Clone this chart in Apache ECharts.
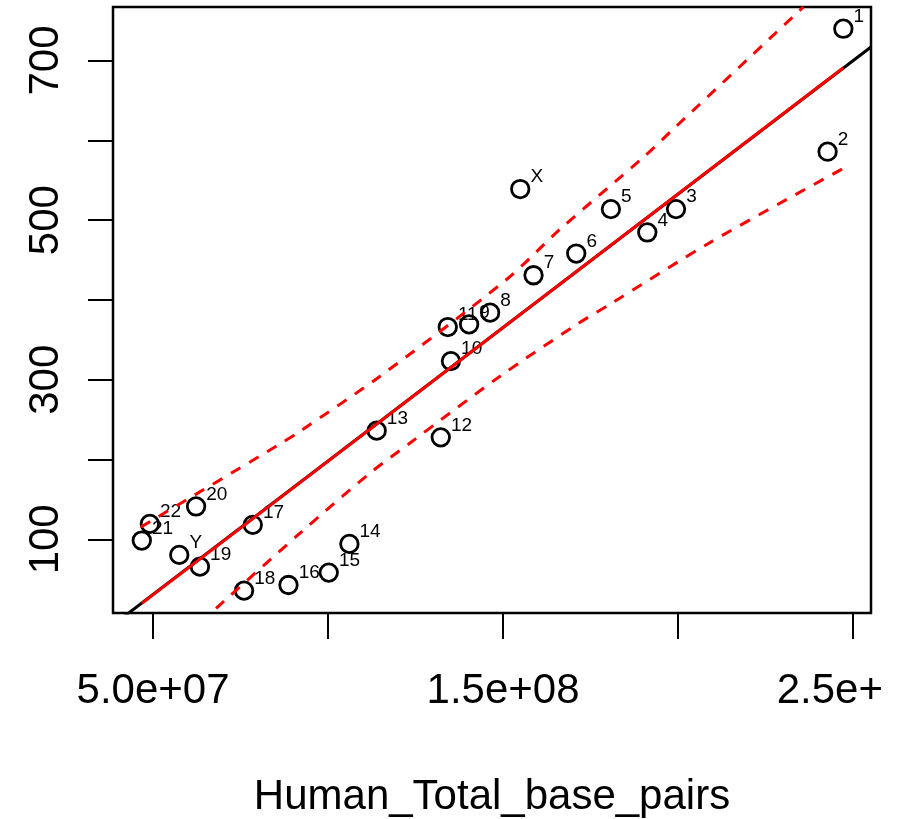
<!DOCTYPE html>
<html>
<head>
<meta charset="utf-8">
<script src="https://cdn.jsdelivr.net/npm/echarts@6/dist/echarts.min.js"></script>
<style>
  html, body { margin: 0; padding: 0; background: #fff; }
  #chart { width: 905px; height: 819px; }
</style>
</head>
<body>
<div id="chart"></div>
<script>
// ---- data ----
const pointLabels = ['1','2','3','4','5','6','7','X','8','9','10','11','12','13','14','15','16','17','18','19','20','21','22','Y'];
const basePairs = [2.472e8, 2.427e8, 1.994e8, 1.912e8, 1.808e8, 1.709e8, 1.587e8, 1.549e8, 1.463e8, 1.403e8, 1.351e8, 1.342e8, 1.322e8, 1.139e8, 1.061e8, 1.002e8, 8.87e7, 7.85e7, 7.6e7, 6.34e7, 6.23e7, 4.68e7, 4.91e7, 5.75e7];
const counts = [739.8, 585.7, 513.8, 484.5, 513.8, 458.1, 430.9, 538.9, 384.0, 369.3, 323.3, 366.0, 227.8, 236.2, 94.3, 58.3, 42.8, 118.2, 35.7, 65.8, 141.2, 98.5, 119.4, 80.5];

// regression line (abline, full width) and fitted line over data range
const ablineX = [3.857e7, 2.551e8];
const ablineY = [-7.3, 716.8];
const fitX = [4.68e7, 2.472e8];
const fitY = [19.8, 690.8];

// dashed interval bands
const upperX = [4.649e7, 8.677e7, 9.2e7, 1.1486e8, 1.5106e8, 1.6629e8, 1.9009e8, 1.9866e8, 2.358e8];
const upperY = [115.3, 220.8, 235.4, 304.4, 425.9, 488.6, 578.7, 614.2, 767.1];
const lowerX = [6.8e7, 9.2e7, 1.12e8, 1.2343e8, 1.4914e8, 1.7106e8, 1.8057e8, 2.0914e8, 2.4723e8];
const lowerY = [13.6, 107.8, 183.1, 220.8, 304.4, 369.3, 394.6, 472.0, 564.9];

// axes
const xRange = [3.857e7, 2.551e8];
const yRange = [7.7, 767];
const xTickValues = [5e7, 1e8, 1.5e8, 2e8, 2.5e8];
const xLabelValues = [5e7, 1.5e8, 2.5e8];
const xLabelTexts = ['5.0e+07', '1.5e+08', '2.5e+{h|08}'];
const yTickValues = [100, 200, 300, 400, 500, 600, 700];
const yLabelValues = [100, 300, 500, 700];
const xTitle = 'Human_Total_base_pairs';

// ---- build ----
const FONT = "'Liberation Sans', Arial, Helvetica, sans-serif";
const zip = (a, b) => a.map((v, i) => [v, b[i]]);
const chart = echarts.init(document.getElementById('chart'), null, { renderer: 'canvas' });

const option = {
  backgroundColor: '#fff',
  animation: false,
  grid: {
    left: 113, right: 34, top: 7, bottom: 206,
    outerBoundsMode: 'none', containLabel: false,
    show: true, borderColor: '#000', borderWidth: 2.5, backgroundColor: 'transparent'
  },
  xAxis: {
    type: 'value', min: xRange[0], max: xRange[1],
    name: xTitle, nameLocation: 'middle', nameGap: 163,
    nameTextStyle: { fontFamily: FONT, fontSize: 42, color: '#000', lineHeight: 42 },
    axisLine: { show: false },
    splitLine: { show: false },
    axisTick: { show: true, inside: false, length: 26, customValues: xTickValues,
      lineStyle: { color: '#000', width: 2 } },
    axisLabel: {
      show: true, customValues: xLabelValues, margin: 57,
      fontFamily: FONT, fontSize: 42, lineHeight: 42, color: '#000',
      formatter: v => xLabelTexts[xLabelValues.indexOf(v)] || '',
      rich: { h: { color: 'rgba(0,0,0,0)', fontFamily: FONT, fontSize: 42, lineHeight: 42 } }
    }
  },
  yAxis: {
    type: 'value', min: yRange[0], max: yRange[1],
    axisLine: { show: false },
    splitLine: { show: false },
    axisTick: { show: true, inside: false, length: 25, customValues: yTickValues,
      lineStyle: { color: '#000', width: 2 } },
    axisLabel: {
      show: true, customValues: yLabelValues, rotate: 90, margin: 46,
      fontFamily: FONT, fontSize: 42, lineHeight: 42, color: '#000'
    }
  },
  series: [
    {
      type: 'scatter', z: 2,
      symbol: 'circle', symbolSize: 17.5,
      itemStyle: { color: 'rgba(0,0,0,0)', borderColor: '#000', borderWidth: 2.8, opacity: 1 },
      label: {
        show: true, position: 'right', distance: 0, offset: [0, -12], opacity: 1,
        formatter: '{b}', fontFamily: FONT, fontSize: 19, color: '#000'
      },
      emphasis: { disabled: true },
      data: basePairs.map((x, i) => ({ name: pointLabels[i], value: [x, counts[i]] }))
    },
    {
      type: 'line', z: 3, symbol: 'none', clip: true,
      lineStyle: { color: '#000', width: 3 },
      data: zip(ablineX, ablineY)
    },
    {
      type: 'line', z: 4, symbol: 'none', clip: true,
      lineStyle: { color: '#ff0000', width: 3 },
      data: zip(fitX, fitY)
    },
    {
      type: 'line', z: 4, symbol: 'none', clip: true, smooth: 0.3,
      lineStyle: { color: '#ff0000', width: 3, type: [11, 10] },
      data: zip(upperX, upperY)
    },
    {
      type: 'line', z: 4, symbol: 'none', clip: true, smooth: 0.3,
      lineStyle: { color: '#ff0000', width: 3, type: [11, 10] },
      data: zip(lowerX, lowerY)
    }
  ]
};
chart.setOption(option);
</script>
</body>
</html>
